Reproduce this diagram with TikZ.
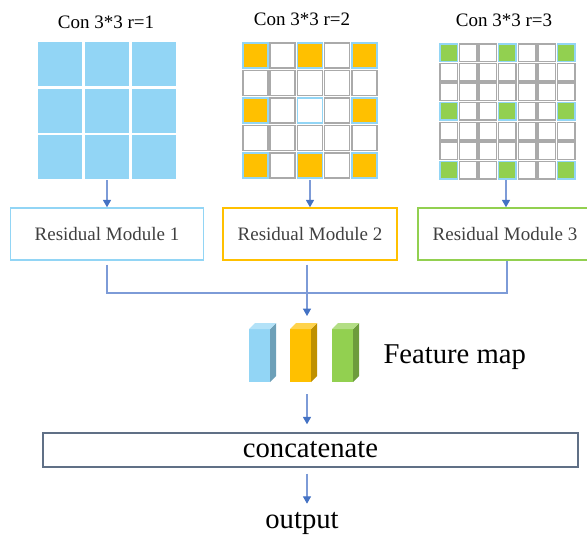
\documentclass[tikz,border=0pt]{standalone}
\usepackage{fontspec}
\setmainfont{Liberation Serif}
\usetikzlibrary{arrows.meta}

\definecolor{cellblue}{RGB}{146,213,245}
\definecolor{cellorange}{RGB}{255,192,0}
\definecolor{cellgreen}{RGB}{146,208,80}
\definecolor{cellgray}{RGB}{170,170,170}
\definecolor{linkblue}{RGB}{125,155,215}
\definecolor{tipblue}{RGB}{68,114,196}
\definecolor{concatgray}{RGB}{96,112,134}

\tikzset{every picture/.style={line width=0.75pt}}
\tikzset{
  link/.style={draw=linkblue, line width=0.8pt},
  flow/.style={link, -{Triangle[length=5.5pt,width=6pt,color=tipblue]}},
  title/.style={anchor=base, inner sep=0.75pt, font=\fontsize{14.25}{17}\selectfont},
  module/.style={draw, line width=1.1pt, minimum height=52*0.75pt, inner sep=0.75pt,
    text={rgb,255:red,64;green,64;blue,64}, font=\fontsize{14.25}{17}\selectfont},
  bigtext/.style={inner sep=0.75pt, font=\fontsize{21.5}{25}\selectfont},
  gridcell/.style={draw=cellgray, line width=1.1pt, fill=white},
}

\begin{document}
\begin{tikzpicture}[x=0.75pt,y=0.75pt,yscale=-1,xscale=1]
\useasboundingbox (0,0) rectangle (587,537);

% Titles
\node (t1) [title] at (106,28) {Con 3*3 r=1};
\node (t2) [title] at (302,25) {Con 3*3 r=2};
\node (t3) [title] at (504,26) {Con 3*3 r=3};

% Grid r=1
\foreach \i in {0,1,2} \foreach \j in {0,1,2}
  \fill [cellblue] (38+47*\i,42+46.5*\j) rectangle ++(44,44);
% Grid r=2
\foreach \i in {0,...,4} \foreach \j in {0,...,4}
  \draw [gridcell] (243+27.2*\i,43+27.5*\j) rectangle ++(25,25);
\foreach \i/\j in {0/0,2/0,4/0,0/2,4/2,0/4,2/4,4/4}
  \draw [gridcell, draw=cellblue, fill=cellorange] (243+27.2*\i,43+27.5*\j) rectangle ++(25,25);
\draw [gridcell, draw=cellblue] (243+27.2*2,43+27.5*2) rectangle ++(25,25);
% Grid r=3
\foreach \i in {0,...,6} \foreach \j in {0,...,6}
  \draw [gridcell] (440+19.57*\i,44+19.57*\j) rectangle ++(17.5,17.5);
\foreach \i in {0,3,6} \foreach \j in {0,3,6}
  \draw [gridcell, draw=cellblue, fill=cellgreen] (440+19.57*\i,44+19.57*\j) rectangle ++(17.5,17.5);

\coordinate (g1) at (107,180);
\coordinate (g2) at (310,180);
\coordinate (g3) at (506,180);

% Residual modules
\node (box1) [module, draw=cellblue, minimum width=192.5*0.75pt] at (107,234) {Residual Module 1};
\node (box2) [module, draw=cellorange, minimum width=174*0.75pt] at (310,234) {Residual Module 2};
\node (box3) [module, draw=cellgreen, minimum width=174*0.75pt] at (505,234) {Residual Module 3};

\draw [flow] (g1) -- (g1 |- box1.north);
\draw [flow] (g2) -- (g2 |- box2.north);
\draw [flow] (g3) -- (g3 |- box3.north);

% Merge
\coordinate (merge) at (307,293);
\coordinate (fmIn) at (307,316);
\coordinate (fmOut) at (307,394);
\draw [link, shorten <=3pt] (box1.south) |- (merge) -| ([xshift=2*0.75pt]box3.south);
\draw [flow, shorten <=3pt] (box2.south -| merge) -- (fmIn);

% Feature map blocks
\foreach \x/\c in {249/cellblue,290/cellorange,332/cellgreen} {
  \fill [\c] (\x,329) rectangle (\x+21,382);
  \fill [\c!75!black] (\x+21,329) -- (\x+27,323) -- (\x+27,376) -- (\x+21,382) -- cycle;
  \fill [\c!70!white] (\x,329) -- (\x+6,323) -- (\x+27,323) -- (\x+21,329) -- cycle;
}
\node (fmap) [bigtext, anchor=base west] at (382,363) {Feature map};

% Concatenate and output
\node (concat) [bigtext, draw=concatgray, line width=1.1pt, minimum width=535*0.75pt, minimum height=34*0.75pt] at (310.5,450) {concatenate};
\node (output) [bigtext, anchor=base] at (302,528) {output};

\draw [flow, shorten >=6pt] (fmOut) -- (fmOut |- concat.north);
\draw [flow, shorten <=4.5pt, shorten >=5pt] (concat.south -| fmOut) -- (output.north -| fmOut);

\end{tikzpicture}
\end{document}
